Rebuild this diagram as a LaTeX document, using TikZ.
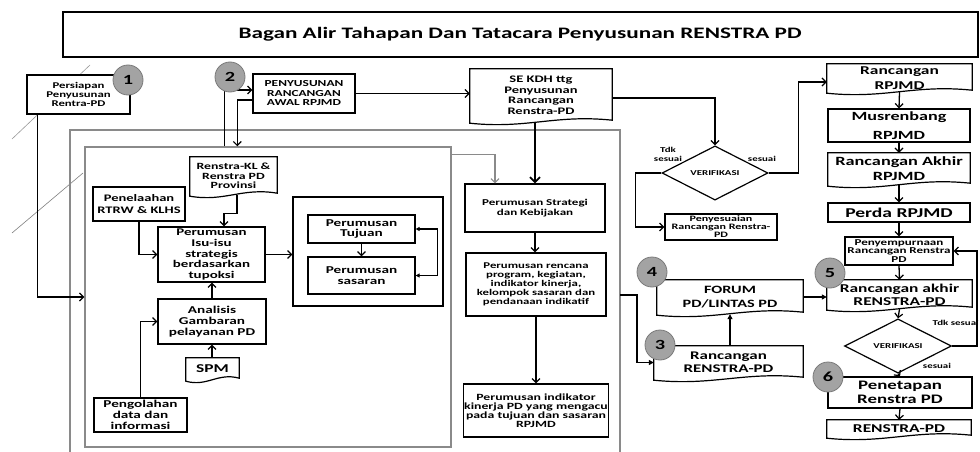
\documentclass[tikz,border=0pt]{standalone}
\usepackage{fontspec}
\setmainfont{Carlito}[FakeStretch=1.45]
\usetikzlibrary{arrows.meta,shapes.geometric,calc}
\definecolor{gline}{HTML}{8A8A8A}
\definecolor{cfill}{HTML}{A3A3A3}
\definecolor{cdraw}{HTML}{7A7A7A}
\newcommand\docout[1]{%
  \draw[line width=1.2pt] let \p1=(#1.north west), \p2=(#1.south east), \n1={\x2-\x1} in
  (\x1,\y2) -- (\x1,\y1) -- (\x2,\y1) -- (\x2,{\y2+2pt})
  .. controls ({\x1+0.6*\n1},{\y2+8pt}) and ({\x1+0.4*\n1},{\y2-7pt}) .. (\x1,{\y2-1pt}) -- cycle;}
\begin{document}
\begin{tikzpicture}[x=1pt,y=-1pt,
  fs/.style 2 args={font={\fontsize{#1}{#2}\selectfont\bfseries}},
  bx/.style={draw, line width=1.2pt, fill=white, align=center, inner sep=1pt},
  dc/.style={align=center, inner sep=1pt},
  gbox/.style={draw=gline, line width=1.4pt},
  arr/.style={line width=1.3pt, -{Straight Barb[length=4pt,width=8pt,line width=1.2pt]}},
  farr/.style={line width=1.3pt, -{Triangle[length=5pt,width=5pt]}},
  garr/.style={draw=gline, line width=1.3pt, -{Straight Barb[length=4pt,width=8pt,line width=1.1pt]}},
  num/.style={circle, fill=cfill, draw=cdraw, line width=0.8pt, minimum size=30pt, inner sep=0pt, fs={14}{14}},
  vrf/.style={diamond, draw, line width=1.2pt, fill=white, inner sep=0pt, fs={7.5}{8}},
  lbl/.style={inner sep=0pt, align=center, fs={7.5}{9}},
  diag/.style={draw=gray!80, line width=0.6pt}
]
\useasboundingbox (0,0) rectangle (980,452);
\clip (0,0) rectangle (980,452);
\fill[white] (0,0) rectangle (980,452);

% title
\node[draw, line width=1.1pt, minimum width=915pt, minimum height=45pt, inner sep=0pt] (title) at (520.5,34.5) {};
\node[fs={16}{18}, inner sep=0pt] (titletext) at (520,34.5) {Bagan Alir Tahapan Dan Tatacara Penyusunan RENSTRA PD};

% faint diagonal lines
\draw[diag] (12,139) -- (90,65);
\draw[diag, draw=gray] (12,233) -- (83,173);

% gray frames
\draw[gbox] (70,130) rectangle (620,470);
\coordinate (oc) at (620,295);
\node[gbox, minimum width=366pt, minimum height=300pt, inner sep=0pt] (inner) at (268,297) {};

% left part
\node[bx, fs={8.8}{9}, minimum width=103pt, minimum height=39pt] (b1) at (78.5,94.5) {Persiapan\\Penyusunan\\Rentra-PD};
\node[bx, fs={9.2}{9.5}, minimum width=102pt, minimum height=39pt] (b2) at (304,93.5) {PENYUSUNAN\\RANCANGAN\\AWAL RPJMD};
\node[dc, fs={10}{10.5}, minimum width=142pt, minimum height=53pt] (se) at (541,95.5) {SE KDH ttg\\Penyusunan\\Rancangan\\Renstra-PD};
\node[dc, fs={9.5}{9.5}, minimum width=87pt, minimum height=38pt] (rkl) at (233.5,176) {Renstra-KL \&\\Renstra PD\\Provinsi};
\node[bx, fs={10}{11.5}, minimum width=92pt, minimum height=34pt] (pen) at (139,204) {Penelaahan\\RTRW \& KLHS};
\node[bx, fs={10.3}{10.7}, minimum width=107pt, minimum height=55pt] (isu) at (211.5,254.5) {Perumusan\\Isu-isu\\strategis\\berdasarkan\\tupoksi};
\node[bx, minimum width=150pt, minimum height=109pt] (cont) at (368,251.5) {};
\node[bx, fs={10.5}{10.5}, minimum width=107pt, minimum height=28pt] (tuj) at (361.5,229) {Perumusan\\Tujuan};
\node[bx, fs={10.5}{10.5}, minimum width=107pt, minimum height=37pt] (sas) at (361.5,275.5) {Perumusan\\sasaran};
\node[bx, fs={10.5}{11}, minimum width=108pt, minimum height=45pt] (ana) at (212,321.5) {Analisis\\Gambaran\\pelayanan PD};
\node[dc, fs={12}{12}, minimum width=53pt, minimum height=22pt] (spm) at (212.5,369) {SPM};
\node[bx, fs={10.5}{11}, minimum width=93pt, minimum height=34pt] (peng) at (140.5,415) {Pengolahan\\data dan\\informasi};

% middle column
\node[bx, fs={9}{10}, minimum width=140pt, minimum height=48pt] (str) at (535,208) {Perumusan Strategi\\dan Kebijakan};
\node[bx, fs={8.8}{9}, minimum width=140pt, minimum height=63pt] (ren) at (536,284.5) {Perumusan rencana\\program, kegiatan,\\indikator kinerja,\\kelompok sasaran dan\\pendanaan indikatif};
\node[bx, fs={9.5}{9}, minimum width=138pt, minimum height=53pt] (ind) at (536,410.5) {Perumusan indikator\\kinerja PD yang mengacu\\pada tujuan dan sasaran\\RPJMD};

% verification 1
\node[vrf, minimum width=106pt, minimum height=33pt] (d1) at (715,173) {VERIFIKASI};
\node[bx, fs={8.3}{8}, minimum width=112pt, minimum height=26pt] (pys) at (721,227) {Penyesuaian\\Rancangan Renstra-\\PD};
\node[lbl] (ltdk1) at (668,154) {Tdk\\sesuai};
\node[lbl] (lses1) at (762,159) {sesuai};

% right column
\node[dc, fs={12}{15}, minimum width=145pt, minimum height=28pt] (rrp) at (899.5,78) {Rancangan\\RPJMD};
\node[bx, fs={12.5}{19}, minimum width=142pt, minimum height=33pt] (mus) at (899,125.5) {Musrenbang\\RPJMD};
\node[dc, fs={12.6}{15}, minimum width=142pt, minimum height=32pt] (rak) at (899,169) {Rancangan Akhir\\RPJMD};
\node[bx, fs={13.5}{14}, minimum width=142pt, minimum height=19pt] (per) at (899,212.5) {Perda RPJMD};
\node[bx, fs={9}{8.5}, minimum width=108pt, minimum height=28pt] (pnp) at (899,251) {Penyempurnaan\\Rancangan Renstra\\PD};
\node[dc, fs={12}{12.7}, minimum width=145pt, minimum height=29pt] (rar) at (899.5,294.5) {Rancangan akhir\\RENSTRA-PD};
\node[vrf, minimum width=107pt, minimum height=32pt] (d2) at (898,346) {VERIFIKASI};
\node[bx, fs={13}{14}, minimum width=144pt, minimum height=31pt] (pnt) at (900,392.5) {Penetapan\\Renstra PD};
\node[dc, fs={12}{12}, minimum width=144pt, minimum height=17pt] (rpd) at (899,428.5) {RENSTRA-PD};
\node[lbl, anchor=east] (ltdk2) at (979,323) {Tdk sesuai};
\node[lbl] (lses2) at (937,366) {sesuai};

% forum and rancangan renstra
\node[dc, fs={11.2}{14}, minimum width=146pt, minimum height=34pt] (for) at (730,297) {FORUM\\PD/LINTAS PD};
\node[dc, fs={11.7}{13}, minimum width=149pt, minimum height=33pt] (rrs) at (728.5,362.5) {Rancangan\\RENSTRA-PD};

% document outlines
\foreach \d in {se,rkl,spm,rrp,rak,rar,rpd,for,rrs} {\docout{\d}}

% connectors
\draw[arr] ([xshift=11pt]b1.south west) |- (inner.west);
\draw[arr] ([xshift=140pt]inner.north west) |- ([yshift=3.5pt]b2.west);
\draw[arr] ([yshift=-6.5pt]b2.west) -| ([xshift=153pt]inner.north west);
\draw[arr] (b2.east) -- (b2.east -| se.west);
\draw[line width=2pt, -{Straight Barb[length=5pt,width=10pt,line width=1.8pt]}] (se.south -| str.north) -- (str.north);
\draw[garr] ([yshift=-8pt]inner.north east) -| ([xshift=-40pt]str.north);
\draw[arr] (str.south) -- (str.south |- ren.north);
\draw[arr] (ren.south) -- (ren.south |- ind.north);

\draw[arr] ([xshift=3.5pt]rkl.south) -- ++(0,18) -| ([xshift=12.5pt]isu.north);
\draw[arr] (pen.south) |- (isu.west);
\draw[arr] (isu.east) -- (isu.east -| cont.west);
\draw[arr] (tuj.south) -- (sas.north);
\draw[line width=1.2pt, {Triangle[length=4pt,width=4pt]}-{Triangle[length=4pt,width=4pt]}] (sas.east) -- ++(22,0) |- (tuj.east);
\draw[arr] (ana.north) -- (ana.north |- isu.south);
\draw[arr] (spm.north) -- (spm.north -| ana.south) -- (ana.south);
\draw[arr] (peng.north) |- (ana.west);

\draw[arr] ([yshift=-2.5pt]se.east) -| (d1.north);
\draw[arr] (d1.west) -- ++(-26,0) |- (pys.west);
\draw[arr] (d1.east) -- ++(30,0) |- ([yshift=-4pt]rrp.west);

\draw[arr] (rrp.south) -- (mus.north);
\draw[arr] (mus.south) -- (rak.north);
\draw[arr] (rak.south) -- (per.north);
\draw[arr] (per.south) -- (pnp.north);
\draw[arr] (pnp.south) -- (rar.north);
\draw[arr] (rar.south) -- (d2.north);
\draw[arr] (d2.south) -- (pnt.north);
\draw[arr] (pnt.south) -- (rpd.north);
\draw[arr] (d2.east) -- ++(25,0) |- (pnp.east);

\draw[farr] (for.east) -- (for.east -| rar.west);
\draw[farr] (rrs.north -| for.south) -- (for.south);
\draw[farr] (oc) -- ++(17,0) |- (rrs.west);

% numbered circles
\node[num] (c1) at (128,80) {1};
\node[num] (c2) at (230,77) {2};
\node[num] (c3) at (660,345) {3};
\node[num] (c4) at (652,272) {4};
\node[num] (c5) at (830,273) {5};
\node[num] (c6) at (828,377) {6};
\end{tikzpicture}
\end{document}
